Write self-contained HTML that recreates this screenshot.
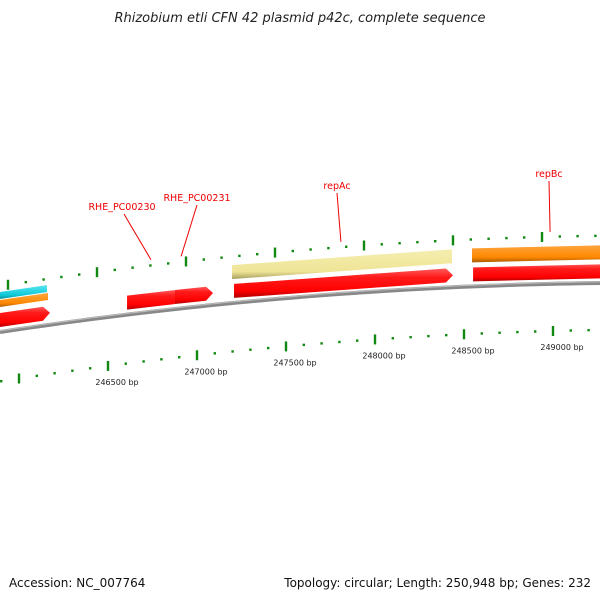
<!DOCTYPE html>
<html><head><meta charset="utf-8"><style>
html,body{margin:0;padding:0;background:#fff;}
svg{display:block;font-family:"DejaVu Sans","Liberation Sans",sans-serif;}
</style></head><body>
<svg id="map" width="600" height="600" viewBox="0 0 600 600" xmlns="http://www.w3.org/2000/svg">
<defs>
<linearGradient id="gRed" x1="0" y1="0" x2="0" y2="1"><stop offset="0" stop-color="#ff5a5a"/><stop offset="0.3" stop-color="#ff1a1a"/><stop offset="0.75" stop-color="#f00"/><stop offset="1" stop-color="#b00000"/></linearGradient>
<linearGradient id="gYel" x1="0" y1="0" x2="0" y2="1"><stop offset="0" stop-color="#f5eeb0"/><stop offset="0.75" stop-color="#efe496"/><stop offset="1" stop-color="#a89e60"/></linearGradient>
<linearGradient id="gOra" x1="0" y1="0" x2="0" y2="1"><stop offset="0" stop-color="#ffa640"/><stop offset="0.7" stop-color="#ff8800"/><stop offset="1" stop-color="#a85a00"/></linearGradient>
<linearGradient id="gCya" x1="0" y1="0" x2="0" y2="1"><stop offset="0" stop-color="#55e6f0"/><stop offset="0.7" stop-color="#10c8d8"/><stop offset="1" stop-color="#0a8890"/></linearGradient>
</defs>
<text x="300" y="22" text-anchor="middle" font-size="13" font-style="italic" fill="#222">Rhizobium etli CFN 42 plasmid p42c, complete sequence</text>
<g id="ticks"></g>
<g id="genes"></g>
<g id="labels"></g>
<text x="9" y="587" font-size="12" fill="#111">Accession: NC_007764</text>
<text x="591" y="587" text-anchor="end" font-size="12" fill="#111">Topology: circular; Length: 250,948 bp; Genes: 232</text>
</svg>
<script>
const tickStart = 245900;
const tickEnd = 249400;
const tickStep = 100;
const majorEvery = 500;
const tickLabels = ["246500 bp","247000 bp","247500 bp","248000 bp","248500 bp","249000 bp"];
const tickLabelBp = [246500,247000,247500,248000,248500,249000];
const geneNames = ["cyan-feature","orange-feature-left","red-gene-left","red-gene-a","red-gene-b","repAc-gene","red-gene-c","repBc-gene","red-gene-d"];
const geneStart = [245880,245880,245880,246607,246876,247197,247208,248545,248551];
const geneEnd = [246157,246163,246174,246912,247090,248433,248438,249400,249400];
const geneTrack = [3,2,1,1,1,2,1,2,1];
const geneArrow = [0,0,1,1,1,0,1,0,0];
const geneFill = ["gCya","gOra","gRed","gRed","gRed","gYel","gRed","gOra","gRed"];
const labelNames = ["RHE_PC00230","RHE_PC00231","repAc","repBc"];
const labelBp = [246809,246978,247876,249051];
const labelX = [122,197,337,549];
const labelY = [210,201,189,177];

const NS="http://www.w3.org/2000/svg";
function X(bp){return 19+(bp-246000)*0.178;}
function Yb(x){return 332-0.1517*x+0.0001167*x*x;}
function Ylow(x){return Yb(x)+49.4-0.004*x;}
function mk(t,a,p){const e=document.createElementNS(NS,t);for(const k in a)e.setAttribute(k,a[k]);p.appendChild(e);return e;}

const bb=document.getElementById('genes');
let d="";for(let x=0;x<=600;x+=10){d+=(x?"L":"M")+x+","+Yb(x).toFixed(2);}
const back=mk('path',{d:d,stroke:"#888",'stroke-width':4,fill:"none"},bb);


const back2=mk('path',{d:d,stroke:"#bbb",'stroke-width':1.2,fill:"none",transform:"translate(0,-1.2)"},bb);



const tg=document.getElementById('ticks');
for(let bp=tickStart;bp<=tickEnd;bp+=tickStep){
  const major=(bp%majorEvery===0);
  const xl=X(bp), yl=Ylow(xl);
  const xu=xl-11, yu=Yb(xu)-46-0.002*xu;
  const h=major?5:1.2;
  const t1=mk('rect',{x:xl-1.2,y:yl-h,width:2.4,height:h*2,fill:"#118811"},tg);
  
  
  const t2=mk('rect',{x:xu-1.2,y:yu-h,width:2.4,height:h*2,fill:"#118811"},tg);
  
  
}
tickLabelBp.forEach((bp,i)=>{
  const x=X(bp)+9, y=Ylow(X(bp))+19;
  const t=mk('text',{x:x,y:y,'text-anchor':"middle",'font-size':8,fill:"#222"},tg);
  t.textContent=tickLabels[i];
  
  
});

const trackOff={1:[-19,-5],2:[-38,-24],3:[-40,-33]};
geneNames.forEach((n,i)=>{
  let x0=X(geneStart[i]), x1=X(geneEnd[i]);
  let off=trackOff[geneTrack[i]];
  if(i===1) off=[-32,-25];
  const top=x=>Yb(x)+off[0], bot=x=>Yb(x)+off[1];
  const ah=geneArrow[i]?7:0;
  const xe=x1-ah;
  let p=`M${x0},${top(x0)} L${xe},${top(xe)}`;
  if(ah){p+=` L${x1},${(top(x1)+bot(x1))/2}`;}
  p+=` L${xe},${bot(xe)} L${x0},${bot(x0)} Z`;
  const g=mk('path',{d:p,fill:`url(#${geneFill[i]})`},bb);
  
  
});

const lg=document.getElementById('labels');
labelNames.forEach((n,i)=>{
  const t=mk('text',{x:labelX[i],y:labelY[i],'text-anchor':"middle",'font-size':9.5,fill:"#e00"},lg);
  t.textContent=n;
  
  
  const xt=X(labelBp[i])-12, yt=Yb(xt)-52;
  const l=mk('line',{x1:labelX[i]+(i===0?2:0),y1:labelY[i]+4,x2:xt,y2:yt,stroke:"#e00",'stroke-width':1},lg);
  
  
});
</script>
</body></html>
